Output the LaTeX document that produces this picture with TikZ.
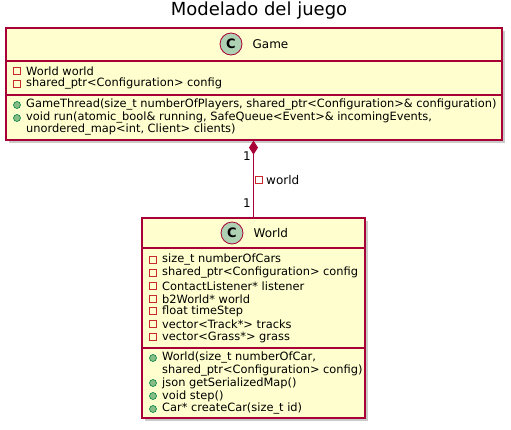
\documentclass[tikz,border=0pt]{standalone}
\usepackage{fontspec}
\setmainfont{DejaVu Sans}
\usetikzlibrary{arrows.meta}
\usetikzlibrary{shadows}
\usetikzlibrary{positioning}
\tikzset{classbox/.style = {draw=umlred, fill=umlfill, line width=1.2, inner sep=0,
    drop shadow={shadow xshift=3pt, shadow yshift=-3pt, fill=black!35, opacity=0.6}}}
\tikzset{spot/.style = {draw=umlred, fill=umlspot, circle, line width=0.8, inner sep=0, minimum size=22,
    font=\fontsize{13}{13}\bfseries\selectfont}}
\tikzset{member/.style = {anchor=west, inner sep=0, font=\fontsize{11.4}{13}\selectfont}}
\tikzset{privicon/.style = {draw=privred, line width=0.8, inner sep=0, minimum size=7}}
\tikzset{pubicon/.style = {draw=pubdark, fill=pubgreen, circle, line width=0.6, inner sep=0, minimum size=7}}
\definecolor{umlfill}{HTML}{FEFECE}
\definecolor{umlred}{HTML}{A80036}
\definecolor{umlspot}{HTML}{ADD1B2}
\definecolor{privred}{HTML}{C82930}
\definecolor{pubgreen}{HTML}{84BE84}
\definecolor{pubdark}{HTML}{038048}

\begin{document}
\begin{tikzpicture}[x=1pt, y=-1pt]
      \useasboundingbox (0, 0) rectangle (511, 429);

      \node [font=\fontsize{18}{20}\selectfont, inner sep=0] (title) at (259, 11) {Modelado del juego};

      % Game
      \node [classbox, minimum width=496, minimum height=112] (game) at (254, 84) {};
      \draw [umlred, line width=1.2] (game.west |- 0, 61) -- (game.east |- 0, 61);
      \draw [umlred, line width=1.2] (game.west |- 0, 95) -- (game.east |- 0, 95);
      \node [spot] (gamespot) at (231, 44) {C};
      \node [member, right=10 of gamespot, font=\fontsize{12}{13}\selectfont] (gamename) {Game};

      \foreach \y/\t in {71/World world, 84/shared\_ptr<Configuration> config} {
        \node [privicon] (gameattricon\y) at (17, \y) {};
        \node [member] (gameattr\y) at (26, \y) {\t};
      }
      \foreach \y/\t in {105/{GameThread(size\_t numberOfPlayers, shared\_ptr<Configuration>\& configuration)},
                         118/{void run(atomic\_bool\& running, SafeQueue<Event>\& incomingEvents,}} {
        \node [pubicon] (gamemethicon\y) at (17, \y) {};
        \node [member] (gamemeth\y) at (26, \y) {\t};
      }
      \node [member] (gamemeth130) at (26, 130) {unordered\_map<int, Client> clients)};

      % World
      \node [classbox, minimum width=223, minimum height=200] (world) at (253.5, 318) {};
      \draw [umlred, line width=1.2] (world.west |- 0, 248) -- (world.east |- 0, 248);
      \draw [umlred, line width=1.2] (world.west |- 0, 348) -- (world.east |- 0, 348);
      \node [spot] (worldspot) at (232, 233) {C};
      \node [member, right=10 of worldspot, font=\fontsize{12}{13}\selectfont] (worldname) {World};

      \foreach \y/\t in {260/size\_t numberOfCars, 273/shared\_ptr<Configuration> config,
                         286/ContactListener* listener, 299/b2World* world, 311/float timeStep,
                         324/vector<Track*> tracks, 337/vector<Grass*> grass} {
        \node [privicon] (worldattricon\y) at (153, \y) {};
        \node [member] (worldattr\y) at (162, \y) {\t};
      }
      \foreach \y/\t in {358/{World(size\_t numberOfCar,}, 383/json getSerializedMap(),
                         396/void step(), 409/Car* createCar(size\_t id)} {
        \node [pubicon] (worldmethicon\y) at (153, \y) {};
        \node [member] (worldmeth\y) at (162, \y) {\t};
      }
      \node [member] (worldmeth371) at (162, 371) {shared\_ptr<Configuration> config)};

      % composition
      \coordinate (gamebottom) at (world.north |- game.south);
      \draw [umlred, line width=1, {Diamond[length=14, width=9]}-] (gamebottom) -- (world.north);
      \node [member, anchor=east, font=\fontsize{12}{13}\selectfont] (multgame) at (251, 156) {1};
      \node [member, anchor=east, font=\fontsize{12}{13}\selectfont] (multworld) at (251, 203) {1};
      \node [privicon] (roleicon) at (259, 180) {};
      \node [member, font=\fontsize{12}{13}\selectfont] (rolename) at (266, 180) {world};
    \end{tikzpicture}
\end{document}
